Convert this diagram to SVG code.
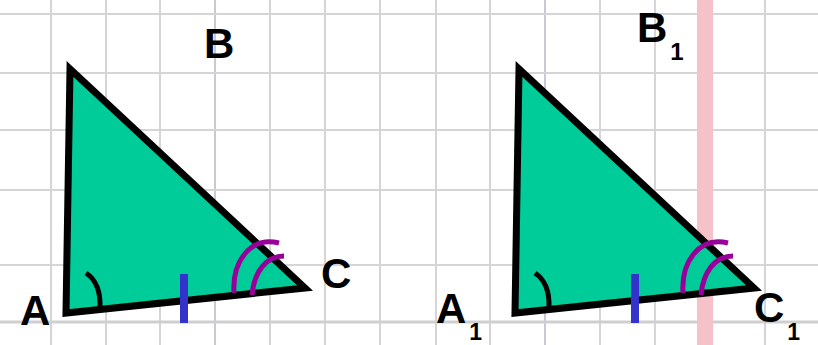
<svg xmlns="http://www.w3.org/2000/svg" width="818" height="345" viewBox="0 0 818 345">
<style>
.grid line{stroke:#d5d5d8;stroke-width:2}
.tri{fill:#00cc99;stroke:#000;stroke-width:7;stroke-linejoin:miter;stroke-miterlimit:10}
.angA{fill:none;stroke:#000;stroke-width:5}
.angC{fill:none;stroke:#990099;stroke-width:5}
.tick{fill:#3333cc}
.lbl{font-family:"Liberation Sans",Arial,sans-serif;font-weight:bold;fill:#000}
</style>
<rect width="818" height="345" fill="#ffffff"/>
<g class="grid" id="grid">
<line x1="51" y1="0" x2="51" y2="345"/>
<line x1="106" y1="0" x2="106" y2="345"/>
<line x1="160" y1="0" x2="160" y2="345"/>
<line x1="215" y1="0" x2="215" y2="345" style="stroke:#c9c9d6"/>
<line x1="270" y1="0" x2="270" y2="345"/>
<line x1="325" y1="0" x2="325" y2="345"/>
<line x1="380" y1="0" x2="380" y2="345"/>
<line x1="436" y1="0" x2="436" y2="345"/>
<line x1="490" y1="0" x2="490" y2="345"/>
<line x1="545" y1="0" x2="545" y2="345" style="stroke:#c9c9d6"/>
<line x1="600" y1="0" x2="600" y2="345"/>
<line x1="655" y1="0" x2="655" y2="345"/>
<line x1="765" y1="0" x2="765" y2="345"/>
<line x1="0" y1="14" x2="818" y2="14"/>
<line x1="0" y1="73" x2="818" y2="73"/>
<line x1="0" y1="130" x2="818" y2="130"/>
<line x1="0" y1="190" x2="818" y2="190"/>
<line x1="0" y1="265" x2="818" y2="265"/>
<line x1="0" y1="322" x2="818" y2="322" style="stroke-width:3;stroke:#cfcfd2"/>
<rect x="697" y="0" width="16" height="345" fill="#f5c2ca"/>
</g>
<g id="triangle-ABC">
<polygon class="tri" points="66,313 70,69 305,288"/>
<path class="angA" d="M86 273 Q101 283 100 308"/>
<path class="angC" d="M234 293 C232 262 250 236 279 243"/>
<path class="angC" d="M252 295 C254 272 266 256 284 256"/>
<rect class="tick" x="180" y="274" width="8" height="49"/>
<text class="lbl" x="204" y="58" font-size="42">B</text>
<text class="lbl" x="20" y="325" font-size="42">A</text>
<text class="lbl" x="321" y="288" font-size="42">C</text>
</g>
<g id="triangle-A1B1C1">
<polygon class="tri" points="515,313 519,69 754,288"/>
<path class="angA" d="M535 273 Q550 283 549 308"/>
<path class="angC" d="M683 293 C681 262 699 236 728 243"/>
<path class="angC" d="M701 295 C703 272 715 256 733 256"/>
<rect class="tick" x="631" y="274" width="8" height="49"/>
<text class="lbl" x="637" y="42" font-size="42">B<tspan font-size="24" dx="3" dy="18">1</tspan></text>
<text class="lbl" x="436" y="323" font-size="42">A<tspan font-size="23" dx="3" dy="17">1</tspan></text>
<text class="lbl" x="754" y="322" font-size="42">C<tspan font-size="23" dx="3" dy="18">1</tspan></text>
</g>
</svg>
